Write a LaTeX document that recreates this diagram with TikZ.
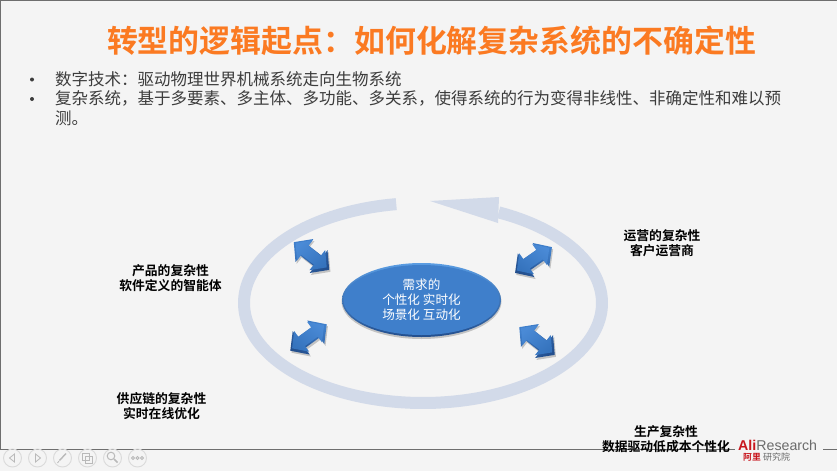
\documentclass[tikz,border=0pt]{standalone}
\usepackage{fontspec}
\setmainfont{Noto Sans CJK SC}[BoldFont={Noto Sans CJK SC Bold}]
\newfontfamily\latinfont{Liberation Sans}
\usetikzlibrary{shadings,calc}
\definecolor{pagebg}{HTML}{F4F4F4}
\definecolor{framegray}{HTML}{6E6E6E}
\definecolor{ringblue}{HTML}{D2DAE9}
\definecolor{titleorange}{HTML}{FB7A22}
\definecolor{bodygray}{HTML}{3C3C3C}
\definecolor{iconcol}{HTML}{DADADA}
\definecolor{alired}{HTML}{C8161E}
\definecolor{aligray}{HTML}{6B6B6B}
\definecolor{blueA}{HTML}{5A9CE2}
\definecolor{blueB}{HTML}{3F7FCB}
\definecolor{blueC}{HTML}{234F8E}
\definecolor{blueD}{HTML}{4A8AD6}
\definecolor{blueE}{HTML}{3573BD}
\newcommand{\dblshape}{(-22.5,0)--(-9,-14.5)--(-9,-6.5)--(9,-6.5)--(9,-14.5)--(22.5,0)--(9,14.5)--(9,6.5)--(-9,6.5)--(-9,14.5)--cycle}
\newcommand{\arrowAt}[3]{%
  \begin{scope}[shift={(#1,#2)}]
    \begin{scope}[shift={(1.2,2)},rotate=#3]
      \fill[black,opacity=.2] \dblshape;
    \end{scope}
    \begin{scope}[rotate=#3]
      \shade[top color=blueB,bottom color=blueC,shading angle=-#3] \dblshape;
    \end{scope}
    \begin{scope}[shift={(-.4,-.8)},rotate=#3,scale=.88]
      \shade[top color=blueD,bottom color=blueE,shading angle=-#3] \dblshape;
    \end{scope}
  \end{scope}}
\tikzset{
  x=1pt,y=-1pt,
  titletext/.style={font=\fontsize{30.9}{36}\selectfont\bfseries,text=titleorange,inner sep=0pt},
  bodytext/.style={font=\fontsize{16.5}{19.6}\selectfont,text=bodygray,inner sep=0pt,align=left},
  aspect/.style={font=\fontsize{12.8}{15}\selectfont\bfseries,text=black,inner sep=0pt,align=center},
  corelabel/.style={font=\fontsize{12.6}{15}\selectfont,text=white,inner sep=0pt,align=center},
  iconring/.style={draw=iconcol,line width=0.9pt},
  iconline/.style={draw=iconcol!85!black,line width=0.8pt},
}
\begin{document}
\begin{tikzpicture}
\useasboundingbox (0,0) rectangle (837,471);
\fill[pagebg] (0,0) rectangle (837,471);
\fill[framegray] (0,0) rectangle (837,1.2);
\fill[framegray] (0,0) rectangle (1.2,449);
% toolbar rule
\coordinate (ruleA) at (0,449.3);
\coordinate (ruleB) at (735,449.3);
\coordinate (ruleC) at (823,449.3);
\coordinate (ruleD) at (837,449.3);
\draw[framegray,line width=.9pt] (ruleA)--(ruleB) (ruleC)--(ruleD);
% ring
\draw[ringblue,line width=12pt,line cap=butt,line join=round]
  plot[domain=98.6:425,samples=120,smooth] ({423+179*cos(\x)},{303-100*sin(\x)});
\fill[ringblue] (430,201)--(499,197)--(498,223)--cycle;
% centre ellipse
\fill[black,opacity=.2] (421.5,301.5) ellipse [x radius=80,y radius=37.5];
\shade[top color=blueA,bottom color=blueC] (421.5,300) ellipse [x radius=79.5,y radius=37];
\fill[blueB] (421.5,300) ellipse [x radius=78,y radius=35];
\node[corelabel] (core) at (421.5,300) {需求的\\个性化 实时化\\场景化 互动化};
% double arrows
\arrowAt{311.5}{256}{-38}
\arrowAt{533.5}{260}{35}
\arrowAt{308.5}{337.5}{36}
\arrowAt{537}{341}{-38}
% texts
\node[titletext] (title) at (431.5,41) {转型的逻辑起点：如何化解复杂系统的不确定性};
\node[bodytext,anchor=north west] (body) at (55,71) {数字技术：驱动物理世界机械系统走向生物系统\\复杂系统，基于多要素、多主体、多功能、多关系，使得系统的行为变得非线性、非确定性和难以预\\测。};
\fill[bodygray] (32,79.5) circle (2) (32,99) circle (2);
\node[aspect] (prod) at (170.5,278) {产品的复杂性\\软件定义的智能体};
\node[aspect] (ops) at (662,243) {运营的复杂性\\客户运营商};
\node[aspect] (supply) at (161.5,406.5) {供应链的复杂性\\实时在线优化};
\node[aspect] (make) at (666,439) {生产复杂性\\数据驱动低成本个性化};
% logo
\node[inner sep=0pt,anchor=west,font=\latinfont\fontsize{14.2}{16}\selectfont,text=aligray] (logoA) at (738,445) {\textcolor{alired}{\textbf{Ali}}Research};
\node[inner sep=0pt,anchor=west,font=\fontsize{8.8}{10}\selectfont\bfseries,text=alired] (logoB) at (743,457.5) {阿里};
\node[inner sep=0pt,anchor=west,font=\fontsize{9}{10}\selectfont,text=aligray] (logoC) at (763,457.5) {研究院};
% toolbar icons
\foreach \cx in {12.5,37.5,62.5,87.5,112.5,137.5} \draw[iconring] (\cx,458) circle (9);
\draw[iconline] (14.5,454)--(9.5,458)--(14.5,462)--cycle;
\draw[iconline] (35.5,454)--(40.5,458)--(35.5,462)--cycle;
\draw[iconline,line width=1.4pt] (66,453.5)--(59.5,460.5);
\draw[iconline] (59,461)--(57.5,463);
\draw[iconline] (82.5,453.5) rectangle (89,460) (85.5,456.5) rectangle (92,463);
\draw[iconline,line width=1pt] (111,456) circle (3.8);
\draw[iconline,line width=1.6pt] (114,459)--(117.5,462.5);
\draw[iconline] (133,458) circle (1.5) (137.5,458) circle (1.5) (142,458) circle (1.5);
\end{tikzpicture}
\end{document}
